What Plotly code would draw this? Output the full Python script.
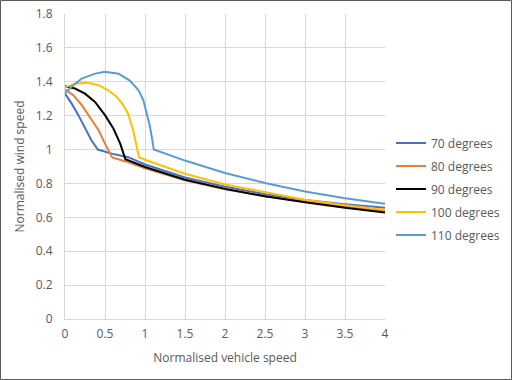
import plotly.graph_objects as go

# ---- data ----
x70 = [0, 0.084, 0.167, 0.25, 0.33, 0.41, 0.584, 0.79, 1.0, 1.5, 2.0, 2.5, 3.0, 3.5, 4.0]
y70 = [1.33, 1.271, 1.203, 1.124, 1.055, 1.0, 0.976, 0.955, 0.912, 0.835, 0.78, 0.737, 0.703, 0.677, 0.656]

x80 = [0, 0.105, 0.21, 0.31, 0.42, 0.5, 0.575, 0.59, 0.76, 1.0, 1.5, 2.0, 2.5, 3.0, 3.5, 4.0]
y80 = [1.355, 1.32, 1.262, 1.193, 1.114, 1.035, 0.963, 0.953, 0.93, 0.89, 0.818, 0.766, 0.725, 0.692, 0.662, 0.637]

x90 = [0, 0.125, 0.25, 0.375, 0.5, 0.605, 0.69, 0.755, 1.0, 1.5, 2.0, 2.5, 3.0, 3.5, 4.0]
y90 = [1.373, 1.36, 1.33, 1.281, 1.203, 1.124, 1.035, 0.943, 0.897, 0.822, 0.768, 0.724, 0.689, 0.656, 0.628]

x100 = [0, 0.125, 0.27, 0.42, 0.54, 0.65, 0.73, 0.79, 0.85, 0.89, 0.925, 1.0, 1.5, 2.0, 2.5, 3.0, 3.5, 4.0]
y100 = [1.368, 1.389, 1.395, 1.38, 1.35, 1.31, 1.26, 1.21, 1.116, 1.038, 0.955, 0.94, 0.857, 0.794, 0.747, 0.704, 0.672, 0.644]

x110 = [0, 0.08, 0.21, 0.375, 0.5, 0.67, 0.81, 0.92, 0.98, 1.02, 1.06, 1.09, 1.11, 1.5, 2.0, 2.5, 3.0, 3.5, 4.0]
y110 = [1.332, 1.37, 1.419, 1.448, 1.459, 1.448, 1.407, 1.35, 1.29, 1.22, 1.14, 1.06, 1.0, 0.935, 0.862, 0.803, 0.753, 0.713, 0.68]

series_names = ["70 degrees", "80 degrees", "90 degrees", "100 degrees", "110 degrees"]
series_colors = ["#4472C4", "#ED7D31", "#000000", "#FFC000", "#5B9BD5"]

x_ticks = [0, 0.5, 1, 1.5, 2, 2.5, 3, 3.5, 4]
x_tick_labels = ["0", "0.5", "1", "1.5", "2", "2.5", "3", "3.5", "4"]
y_ticks = [0, 0.2, 0.4, 0.6, 0.8, 1.0, 1.2, 1.4, 1.6, 1.8]
y_tick_labels = ["0", "0.2", "0.4", "0.6", "0.8", "1", "1.2", "1.4", "1.6", "1.8"]

xs = [x70, x80, x90, x100, x110]
ys = [y70, y80, y90, y100, y110]

FONT = "'Open Sans', Lato, sans-serif"
TXT = "#595959"
GRID = "#D9D9D9"

fig = go.Figure()
for i, (xv, yv) in enumerate(zip(xs, ys)):
    fig.add_trace(go.Scatter(
        x=xv, y=yv, mode="lines", name=series_names[i],
        line=dict(color=series_colors[i], width=2),
        legendgroup=f"g{i}",
    ))

W, H = 512, 380
L, R, T, B = 65, 127, 14, 61
pw, ph = W - L - R, H - T - B

fig.update_layout(
    width=W, height=H,
    margin=dict(l=L, r=R, t=T, b=B, autoexpand=False),
    paper_bgcolor="white", plot_bgcolor="white",
    font=dict(family=FONT, size=12, color=TXT),
    showlegend=True,
    legend=dict(
        x=(391 - L) / pw, xanchor="left",
        y=(T + ph - 189) / ph, yanchor="middle",
        font=dict(family=FONT, size=12, color=TXT),
        tracegroupgap=4,
        bgcolor="rgba(0,0,0,0)",
    ),
    xaxis=dict(
        range=[0, 4], tickvals=x_ticks, ticktext=x_tick_labels,
        showgrid=True, gridcolor=GRID, gridwidth=1, automargin=False,
        zeroline=False, showline=True, linecolor=GRID, linewidth=1,
        ticks="", tickfont=dict(size=12, color=TXT), ticklabelstandoff=4,
        title=dict(text="Normalised vehicle speed", font=dict(size=12, color=TXT), standoff=12),
    ),
    yaxis=dict(
        range=[0, 1.8], tickvals=y_ticks, ticktext=y_tick_labels,
        showgrid=True, gridcolor=GRID, gridwidth=1, automargin=False,
        zeroline=False, showline=True, linecolor=GRID, linewidth=1,
        ticks="", tickfont=dict(size=12, color=TXT), ticklabelstandoff=9,
        title=dict(text="Normalised wind speed", font=dict(size=12, color=TXT), standoff=8),
    ),
    shapes=[dict(
        type="rect", xref="paper", yref="paper",
        x0=(0.5 - L) / pw, x1=(W - 0.5 - L) / pw,
        y0=(T + ph - (H - 0.5)) / ph, y1=(T + ph - 0.5) / ph,
        line=dict(color="#595959", width=1), fillcolor="rgba(0,0,0,0)",
        layer="above",
    )],
)

fig.write_html("out.html", config={"displayModeBar": False},
               post_script="document.body.style.margin='0';")
